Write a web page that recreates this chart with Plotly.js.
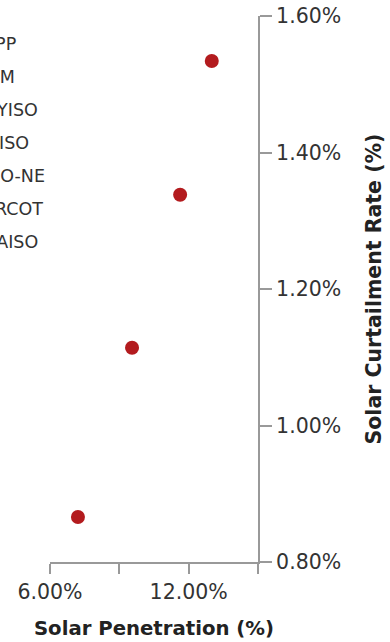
<!DOCTYPE html>
<html>
<head>
<meta charset="utf-8">
<script src="https://cdn.plot.ly/plotly-3.0.1.min.js"></script>
<style>html,body{margin:0;padding:0;background:#fff;}#chart{width:390px;height:642px;}</style>
</head>
<body>
<div id="chart"></div>
<script>
// Data
const solarPenetration = [13.0, 11.63, 9.55, 7.21];
const curtailmentRate = [1.534, 1.338, 1.114, 0.866];
const legendLabels = ["SPP", "PJM", "NYISO", "MISO", "ISO-NE", "ERCOT", "CAISO"];
const xTickVals = [6, 9, 12, 15];
const xTickText = ["6.00%", "", "12.00%", ""];
const yTickVals = [0.8, 1.0, 1.2, 1.4, 1.6];
const yTickText = ["0.80%", "1.00%", "1.20%", "1.40%", "1.60%"];

const FONT = "'DejaVu Sans', sans-serif";
const plotLeft = 50, plotW = 208;
const plotTop = 16, plotBottom = 562, plotH = plotBottom - plotTop;

const annotations = legendLabels.map((t, i) => ({
  text: t,
  xref: "paper", yref: "paper",
  x: (-18.5 - plotLeft) / plotW, xanchor: "left",
  y: (plotBottom - (44 + 33 * i)) / plotH, yanchor: "middle",
  showarrow: false,
  font: {family: FONT, size: 17.5, color: "#333"}
}));

const trace = {
  x: solarPenetration,
  y: curtailmentRate,
  type: "scatter",
  mode: "markers",
  marker: {size: 14, color: "#b31b1e"},
  cliponaxis: false,
  showlegend: false
};

const layout = {
  width: 390, height: 642,
  margin: {l: 50, r: 132, t: 16, b: 80},
  paper_bgcolor: "#fff", plot_bgcolor: "#fff",
  font: {family: FONT, color: "#222"},
  showlegend: false,
  xaxis: {
    range: [6, 15],
    tickvals: xTickVals, ticktext: xTickText,
    ticks: "outside", ticklen: 10, tickcolor: "#999", tickwidth: 2,
    showline: true, linecolor: "#999", linewidth: 2,
    showgrid: false, zeroline: false,
    tickfont: {family: FONT, size: 20.5, color: "#333"},
    title: {text: "<b>Solar Penetration (%)</b>", font: {family: FONT, size: 19.7, color: "#222"}, standoff: 19}
  },
  yaxis: {
    side: "right",
    range: [0.8, 1.6],
    tickvals: yTickVals, ticktext: yTickText,
    ticks: "outside", ticklen: 12, tickcolor: "#999", tickwidth: 2,
    showline: true, linecolor: "#999", linewidth: 2,
    showgrid: false, zeroline: false,
    tickfont: {family: FONT, size: 20.5, color: "#333"},
    title: {text: "<b>Solar Curtailment Rate (%)</b>", font: {family: FONT, size: 20.5, color: "#222"}, standoff: 26}
  },
  annotations: annotations
};

Plotly.newPlot("chart", [trace], layout, {displayModeBar: false, staticPlot: true});
</script>
</body>
</html>
